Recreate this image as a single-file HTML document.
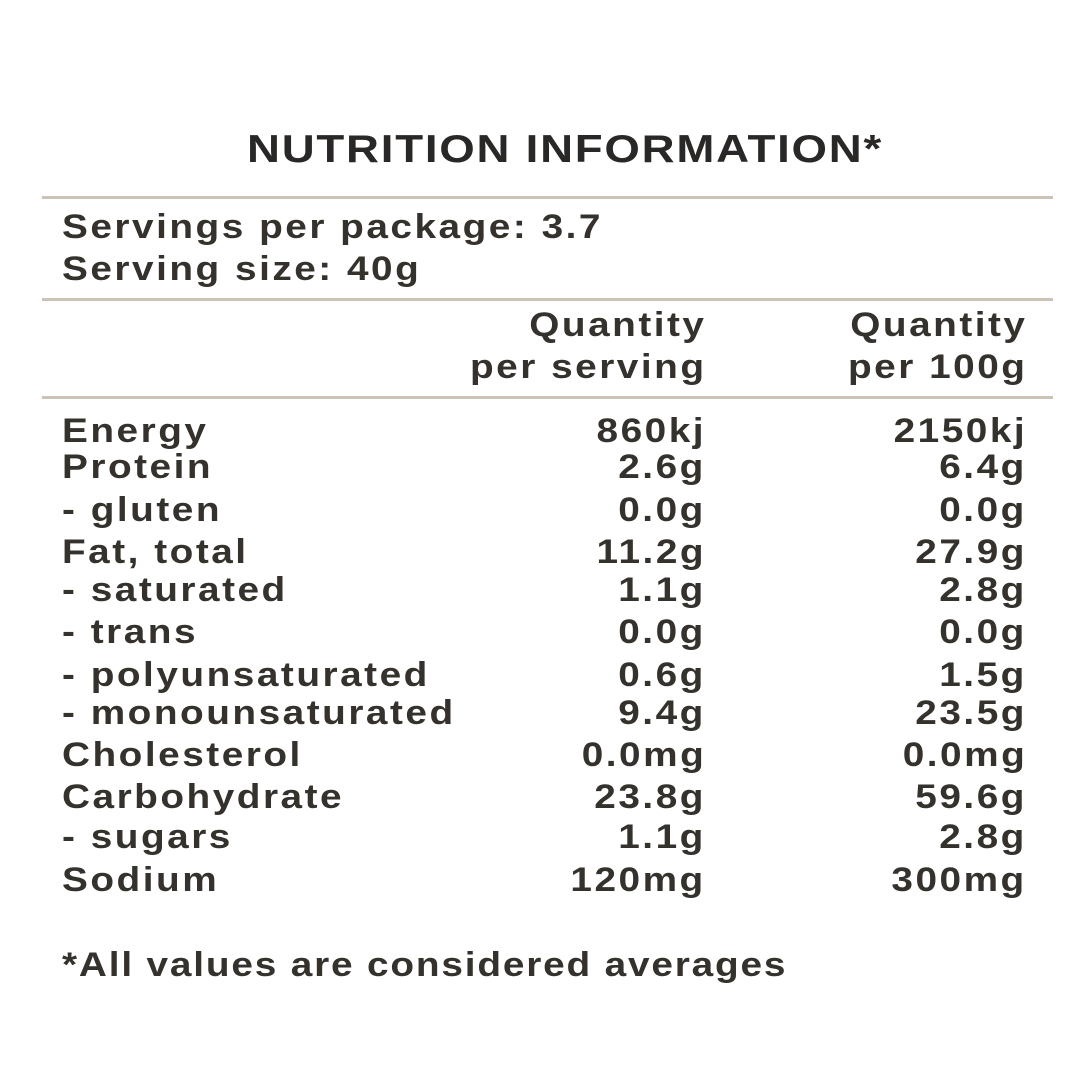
<!DOCTYPE html>
<html><head><meta charset="utf-8"><style>
html,body{margin:0;padding:0;background:#fff;}
body{width:1080px;height:1080px;position:relative;overflow:hidden;font-family:"Liberation Sans",sans-serif;color:#35322d;}
.t{position:absolute;white-space:nowrap;font-size:34px;font-weight:bold;letter-spacing:2.2px;line-height:1;transform:scaleX(1.14);transform-origin:left top;}
.r{text-align:right;transform-origin:right top;}
.line{position:absolute;left:42px;width:1011px;height:3px;background:#cbc3b5;}
</style></head><body>
<div class="t" style="left:25px;width:1080px;text-align:center;top:130px;font-size:39px;letter-spacing:1.5px;color:#2a2826;transform:scaleX(1.17);transform-origin:center top;">NUTRITION INFORMATION*</div>
<div class="line" style="top:196px"></div>
<div class="t" style="left:62px;top:210px">Servings per package: 3.7</div>
<div class="t" style="left:62px;top:252px">Serving size: 40g</div>
<div class="line" style="top:298px"></div>
<div class="t r" style="right:374px;top:308px">Quantity</div>
<div class="t r" style="right:374px;top:350px">per serving</div>
<div class="t r" style="right:53px;top:308px">Quantity</div>
<div class="t r" style="right:53px;top:350px">per 100g</div>
<div class="line" style="top:396px"></div>
<div id="rows"></div>
<div class="t" style="left:62px;top:948px;letter-spacing:1.6px">*All values are considered averages</div>
<script>
var d=[["Energy","860kj","2150kj",414],["Protein","2.6g","6.4g",450],["- gluten","0.0g","0.0g",493],["Fat, total","11.2g","27.9g",535],["- saturated","1.1g","2.8g",573],["- trans","0.0g","0.0g",615],["- polyunsaturated","0.6g","1.5g",658],["- monounsaturated","9.4g","23.5g",696],["Cholesterol","0.0mg","0.0mg",738],["Carbohydrate","23.8g","59.6g",780],["- sugars","1.1g","2.8g",820],["Sodium","120mg","300mg",863]];
var h="";d.forEach(function(r){h+='<div class="t" style="left:62px;top:'+r[3]+'px">'+r[0]+'</div><div class="t r" style="right:374px;top:'+r[3]+'px">'+r[1]+'</div><div class="t r" style="right:53px;top:'+r[3]+'px">'+r[2]+'</div>';});
document.getElementById("rows").innerHTML=h;
</script>
</body></html>
